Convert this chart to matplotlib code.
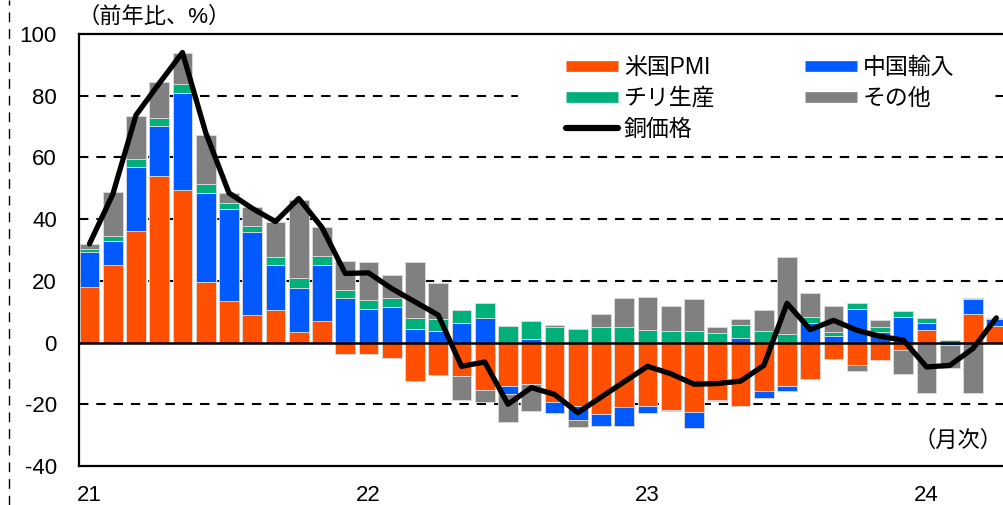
import matplotlib
matplotlib.use('Agg')
import matplotlib.pyplot as plt
from matplotlib.lines import Line2D
from matplotlib.patches import Rectangle
import numpy as np

plt.rcParams['font.family'] = ['Liberation Sans', 'Noto Sans CJK JP']
plt.rcParams['axes.unicode_minus'] = False

# months 2021/1 .. 2024/4
months = list(range(40))
year_ticks = [0, 12, 24, 36]
year_labels = ['21', '22', '23', '24']

# contributions (% yoy)
us_pmi = [17.9, 25.0, 36.1, 54.1, 49.4, 19.7, 13.4, 8.9, 10.6, 3.4,
          6.9, -3.8, -3.8, -4.9, -12.6, -10.6, -10.9, -15.5, -14.2, -13.5,
          -19.3, -20.7, -23.1, -20.9, -20.7, -22.0, -22.5, -18.5, -20.4, -15.7,
          -14.2, -11.9, -5.2, -7.4, -5.7, -2.5, 4.2, 0.0, 9.4, 5.4]
china_imp = [11.5, 7.8, 20.9, 16.2, 31.6, 28.9, 29.8, 26.8, 14.5, 14.3,
             18.2, 14.6, 10.9, 11.5, 4.4, 3.7, 6.4, 8.0, -2.4, 1.2,
             -3.5, -4.5, -3.8, -6.0, -2.1, -0.3, -5.1, -0.5, 1.6, -2.3,
             -1.5, 6.4, 2.0, 10.8, 3.4, 8.3, 2.2, -0.9, 4.6, 2.3]
chile_prod = [0.9, 1.7, 2.4, 2.6, 2.9, 2.7, 2.1, 2.2, 2.7, 3.1,
              2.9, 2.4, 2.8, 3.0, 3.6, 4.1, 4.1, 4.9, 5.3, 5.8,
              5.1, 4.5, 4.9, 4.9, 4.2, 3.9, 3.8, 3.2, 4.1, 3.8,
              2.8, 1.8, 1.4, 2.1, 1.7, 1.9, 1.7, 0.9, 0.3, 0.3]
other = [1.8, 14.4, 14.1, 11.4, 10.1, 16.0, 3.1, 6.1, 11.4, 25.4,
         9.5, 9.5, 12.4, 7.4, 18.1, 11.6, -7.6, -3.9, -9.2, -8.7,
         0.5, -2.0, 4.3, 9.4, 10.6, 7.9, 10.2, 1.9, 1.8, 6.9,
         25.0, 7.9, 8.4, -1.9, 2.1, -7.8, -16.2, -7.3, -16.4, 0.0]
copper = [32.0, 48.0, 73.7, 84.0, 94.0, 68.0, 48.5, 43.5, 39.2, 46.7,
          37.3, 22.4, 22.6, 17.5, 13.2, 8.9, -7.7, -6.3, -20.0, -14.6,
          -16.8, -22.7, -17.7, -12.7, -7.7, -10.1, -13.5, -13.3, -12.5, -7.4,
          12.7, 4.2, 7.2, 4.0, 2.0, 0.8, -7.9, -7.4, -1.9, 8.0]

names = ['米国PMI', '中国輸入', 'チリ生産', 'その他']
colors = ['#FF4F00', '#005AFF', '#00B07A', '#808080']


def stack_bottoms(series_list):
    pos = np.zeros(len(months))
    neg = np.zeros(len(months))
    bottoms = []
    for s in series_list:
        s = np.asarray(s)
        bottoms.append(np.where(s >= 0, pos, neg))
        pos = pos + np.where(s >= 0, s, 0)
        neg = neg + np.where(s < 0, s, 0)
    return bottoms


W, H = 1004, 505
fig = plt.figure(figsize=(W / 100, H / 100), dpi=100)
ax = fig.add_axes([79 / W, 1 - 466 / H, (W - 79) / W, 432 / H])

series = [us_pmi, china_imp, chile_prod, other]
bottoms = stack_bottoms(series)
for s, b, c in zip(series, bottoms, colors):
    ax.bar(months, s, bottom=b, width=0.85, color=c,
           edgecolor='#dcdcdc', linewidth=0.6, zorder=2)

ax.plot(months, copper, color='black', lw=3.8, solid_joinstyle='round',
        solid_capstyle='round', zorder=4)

for v in [80, 60, 40, 20, -20]:
    ax.axhline(v, color='black', lw=1.5, linestyle=(0, (4.5, 3.8)), zorder=1)
ax.axhline(0, color='black', lw=1.8, zorder=3)

ax.set_xlim(-0.45, 39.33)
ax.set_ylim(-40, 100)
ax.set_yticks([100, 80, 60, 40, 20, 0, -20, -40])
ax.set_xticks(year_ticks)
ax.set_xticklabels(year_labels)
ax.tick_params(axis='both', length=0, labelsize=16)
ax.tick_params(axis='y', pad=16)
ax.tick_params(axis='x', pad=14)
for side in ['left', 'top', 'bottom']:
    ax.spines[side].set_linewidth(1.6)
    ax.spines[side].set_color('black')
ax.spines['right'].set_visible(False)

# white background behind the legend
ax.add_patch(Rectangle((518 / W, 1 - 145 / H), 477 / W, 100 / H,
                       transform=fig.transFigure, facecolor='white',
                       edgecolor='none', zorder=1.5))

handles = [Line2D([], [], color=c, lw=7.7, solid_capstyle='butt') for c in colors]
copper_h = Line2D([], [], color='black', lw=4.5, solid_capstyle='round')
order_h = [handles[0], handles[2], copper_h, handles[1], handles[3]]
order_l = [names[0], names[2], '銅価格', names[1], names[3]]
ax.legend(order_h, order_l, ncol=2, loc='upper left',
          bbox_to_anchor=(566 / W, 1 - 56 / H), bbox_transform=fig.transFigure,
          frameon=False, fontsize=16.5, handlelength=2.27, handletextpad=0.26,
          columnspacing=3.9, labelspacing=0.34, borderpad=0, borderaxespad=0)

fig.text(78 / W, 1 - 17 / H, '（前年比、%）', ha='left', va='center', fontsize=16)
fig.text(1003 / W, 1 - 441 / H, '（月次）', ha='right', va='center', fontsize=16)

fig.add_artist(Line2D([9 / W, 9 / W], [0, 1], transform=fig.transFigure,
                      color='black', lw=1.0, linestyle=(0, (7, 5))))

fig.savefig('out.png', dpi=100)
